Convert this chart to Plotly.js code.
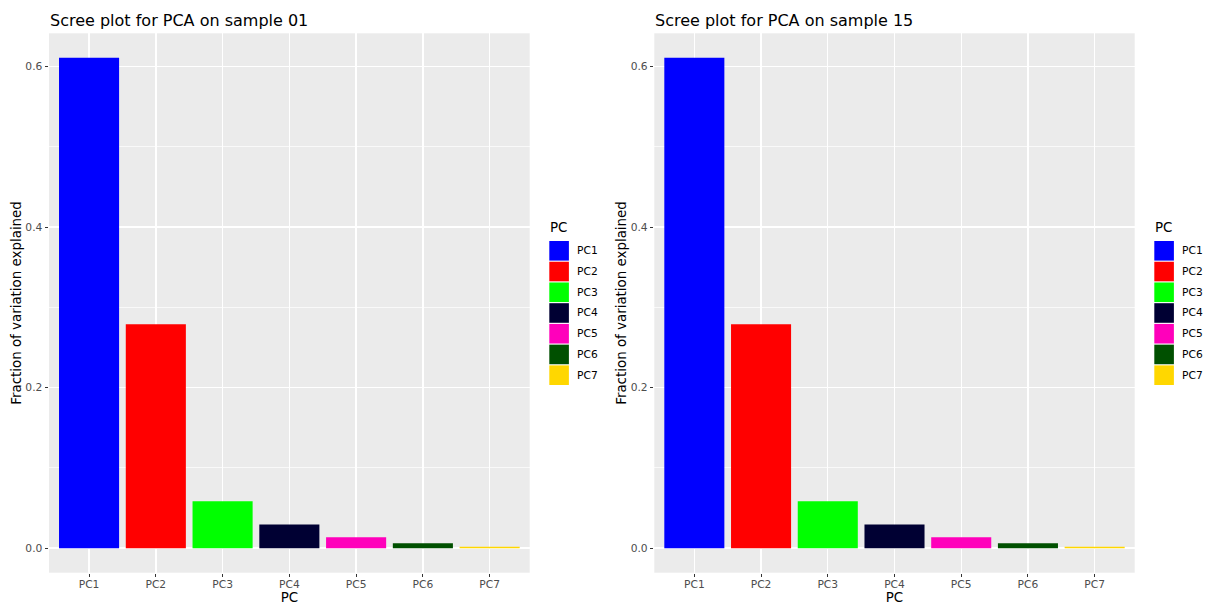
<!DOCTYPE html>
<html>
<head>
<meta charset="utf-8">
<script src="https://cdn.plot.ly/plotly-3.0.1.min.js"></script>
<style>
  html, body { margin: 0; padding: 0; background: #ffffff; }
  #chart { width: 1206px; height: 605px; }
</style>
</head>
<body>
<div id="chart"></div>
<script>
// Principal components and the share of variance each one explains
const components = ['PC1', 'PC2', 'PC3', 'PC4', 'PC5', 'PC6', 'PC7'];
const sample01Variance = [0.611, 0.279, 0.0586, 0.0296, 0.0137, 0.0062, 0.0017];
const sample15Variance = [0.611, 0.279, 0.0586, 0.0296, 0.0137, 0.0062, 0.0017];
const componentColors = ['#0000FF', '#FF0000', '#00FF00', '#000033', '#FF00BB', '#005000', '#FFD700'];
const yTickValues = [0, 0.2, 0.4, 0.6];
const yTickLabels = ['0.0', '0.2', '0.4', '0.6'];
const panelTitles = ['Scree plot for PCA on sample 01', 'Scree plot for PCA on sample 15'];
const xAxisTitle = 'PC';
const yAxisTitle = 'Fraction of variation explained';
const legendTitle = 'PC';

const W = 1206, H = 605;
const FONT = 'DejaVu Sans, Liberation Sans, sans-serif';
const px = x => x / W;
const py = y => 1 - y / H;

// Pixel frame of each panel
const panels = [
  { left: 49, right: 529.7, values: sample01Variance, title: panelTitles[0], xa: 'x', ya: 'y' },
  { left: 654.3, right: 1134.7, values: sample15Variance, title: panelTitles[1], xa: 'x2', ya: 'y2' }
];
const plotTop = 33.3, plotBottom = 572.7;

// Expand the value range by 5% on both ends
const allValues = sample01Variance.concat(sample15Variance);
const vMax = Math.max(...allValues);
const yRange = [-0.05 * vMax, vMax * 1.05];

const traces = panels.map(p => ({
  type: 'bar',
  x: components,
  y: p.values,
  width: 0.9,
  marker: { color: componentColors, line: { width: 0 } },
  xaxis: p.xa,
  yaxis: p.ya,
  showlegend: false,
  hovertemplate: '%{x}: %{y:.3f}<extra></extra>'
}));

function xAxis(p, anchor) {
  return {
    domain: [px(p.left), px(p.right)],
    anchor: anchor,
    type: 'category',
    categoryorder: 'array',
    categoryarray: components,
    range: [-0.6, components.length - 0.4],
    showgrid: true,
    gridcolor: '#FFFFFF',
    gridwidth: 1.4,
    zeroline: false,
    showline: false,
    ticks: 'outside',
    ticklen: 3.5,
    tickwidth: 1,
    tickcolor: '#333333',
    ticklabelstandoff: -2,
    tickfont: { family: FONT, size: 10.7, color: '#4D4D4D' },
    title: { text: xAxisTitle, font: { family: FONT, size: 13.4, color: '#000000' } },
    fixedrange: true
  };
}

function yAxis(anchor) {
  return {
    domain: [py(plotBottom), py(plotTop)],
    anchor: anchor,
    range: yRange,
    tickvals: yTickValues,
    ticktext: yTickLabels,
    showgrid: true,
    gridcolor: '#FFFFFF',
    gridwidth: 1.4,
    minor: { dtick: 0.1, tick0: 0, showgrid: true, gridcolor: '#FFFFFF', gridwidth: 0.7, ticks: '' },
    zeroline: false,
    showline: false,
    ticks: 'outside',
    ticklen: 3.5,
    tickwidth: 1,
    tickcolor: '#333333',
    tickfont: { family: FONT, size: 10.7, color: '#4D4D4D' },
    title: { text: yAxisTitle, standoff: 0, font: { family: FONT, size: 13.4, color: '#000000' } },
    fixedrange: true
  };
}

const annotations = [];
const shapes = [];

panels.forEach(p => {
  // Panel title
  annotations.push({
    text: p.title, showarrow: false,
    xref: 'paper', yref: 'paper',
    x: px(p.left - 1), xanchor: 'left',
    y: py(21), yanchor: 'middle',
    font: { family: FONT, size: 16, color: '#000000' }
  });

  // Legend to the right of the panel
  const keyLeft = p.right + 19.6;
  const keySize = 19.6;
  const keyPitch = 20.73;
  const keyTop = 241;
  annotations.push({
    text: legendTitle, showarrow: false,
    xref: 'paper', yref: 'paper',
    x: px(keyLeft - 1), xanchor: 'left',
    y: py(228), yanchor: 'middle',
    font: { family: FONT, size: 13.4, color: '#000000' }
  });
  components.forEach((c, i) => {
    const top = keyTop + i * keyPitch;
    shapes.push({
      type: 'rect', xref: 'paper', yref: 'paper',
      x0: px(keyLeft), x1: px(keyLeft + keySize),
      y0: py(top + keySize), y1: py(top),
      fillcolor: componentColors[i], line: { width: 0 }
    });
    annotations.push({
      text: c, showarrow: false,
      xref: 'paper', yref: 'paper',
      x: px(keyLeft + keySize + 6), xanchor: 'left',
      y: py(top + keySize / 2), yanchor: 'middle',
      font: { family: FONT, size: 10.7, color: '#000000' }
    });
  });
});

const layout = {
  width: W,
  height: H,
  margin: { l: 0, r: 0, t: 0, b: 0 },
  paper_bgcolor: '#FFFFFF',
  plot_bgcolor: '#EBEBEB',
  font: { family: FONT, color: '#000000' },
  showlegend: false,
  bargap: 0.1,
  xaxis: xAxis(panels[0], 'y'),
  yaxis: yAxis('x'),
  xaxis2: xAxis(panels[1], 'y2'),
  yaxis2: yAxis('x2'),
  annotations: annotations,
  shapes: shapes
};

Plotly.newPlot('chart', traces, layout, { displayModeBar: false, staticPlot: true });
</script>
</body>
</html>
